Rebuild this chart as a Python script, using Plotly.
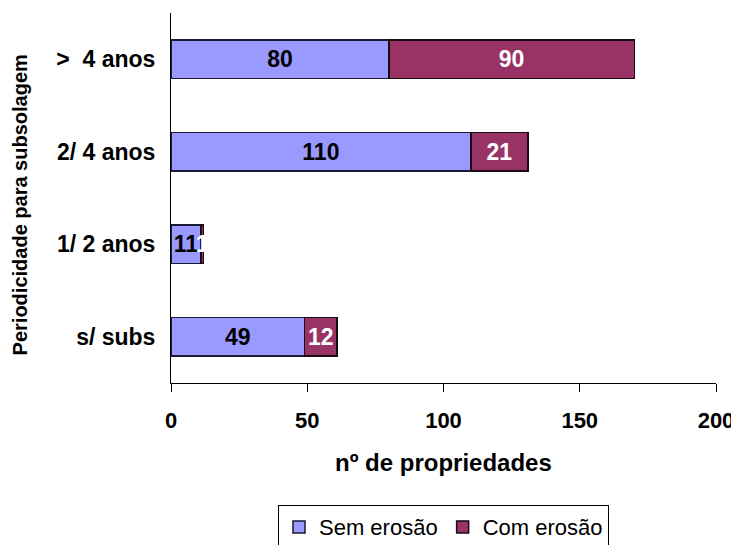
import plotly.graph_objects as go

categories = ["s/ subs", "1/ 2 anos", "2/ 4 anos", ">\u00a0 4 anos"]
sem_erosao = [49, 11, 110, 80]
com_erosao = [12, 1, 21, 90]
x_ticks = [0, 50, 100, 150, 200]

FONT = "Arial, Liberation Sans, sans-serif"

fig = go.Figure()
fig.add_trace(go.Bar(
    y=categories, x=sem_erosao, orientation="h", name="Sem erosão",
    marker=dict(color="#9999FF", line=dict(color="#1a1a33", width=1.5)),
    text=[str(v) for v in sem_erosao], textposition="inside",
    insidetextanchor="middle",
    textfont=dict(family=FONT, size=23, color="black", weight="bold"),
))
fig.add_trace(go.Bar(
    y=categories, x=com_erosao, orientation="h", name="Com erosão",
    marker=dict(color="#993366", line=dict(color="#1a0a12", width=1.5)),
    text=[str(v) for v in com_erosao], textposition="inside",
    insidetextanchor="middle",
    textfont=dict(family=FONT, size=23, color="white", weight="bold"),
))

fig.update_layout(
    template="none",
    barmode="stack",
    bargap=0.58,
    width=731, height=537,
    margin=dict(l=163, r=23, t=5, b=162, autoexpand=False),
    paper_bgcolor="white", plot_bgcolor="white",
    font=dict(family=FONT, color="black"),
    uniformtext=dict(minsize=23, mode="show"),
    showlegend=True,
    legend=dict(
        orientation="h", x=0.5, xanchor="center", y=-0.330, yanchor="top",
        bordercolor="black", borderwidth=1, bgcolor="white",
        font=dict(family=FONT, size=22, color="black"),
        traceorder="normal",
    ),
    xaxis=dict(
        range=[0, 200], tickvals=x_ticks, ticktext=[str(v) for v in x_ticks],
        showline=True, linecolor="black", linewidth=1,
        ticks="outside", ticklen=8, tickcolor="black", tickwidth=1,
        showgrid=False, zeroline=False, automargin=False,
        tickfont=dict(family=FONT, size=22, color="black", weight="bold"),
        ticklabelstandoff=10,
    ),
    yaxis=dict(
        categoryorder="array", categoryarray=categories,
        showline=True, linecolor="black", linewidth=1,
        ticks="", showgrid=False, zeroline=False, automargin=False,
        tickfont=dict(family=FONT, size=23, color="black", weight="bold"),
        ticklabelstandoff=10,
    ),
    annotations=[
        dict(text="nº de propriedades", xref="paper", yref="paper",
             x=0.5, y=-0.216, xanchor="center", yanchor="middle",
             showarrow=False,
             font=dict(family=FONT, size=24, color="black", weight="bold")),
        dict(text="Periodicidade para subsolagem", xref="paper", yref="paper",
             x=(12 - 163) / 545, y=0.48, xanchor="center", yanchor="middle",
             textangle=-90, showarrow=False,
             font=dict(family=FONT, size=20, color="black", weight="bold")),
    ],
)

fig.write_html("out.html")
